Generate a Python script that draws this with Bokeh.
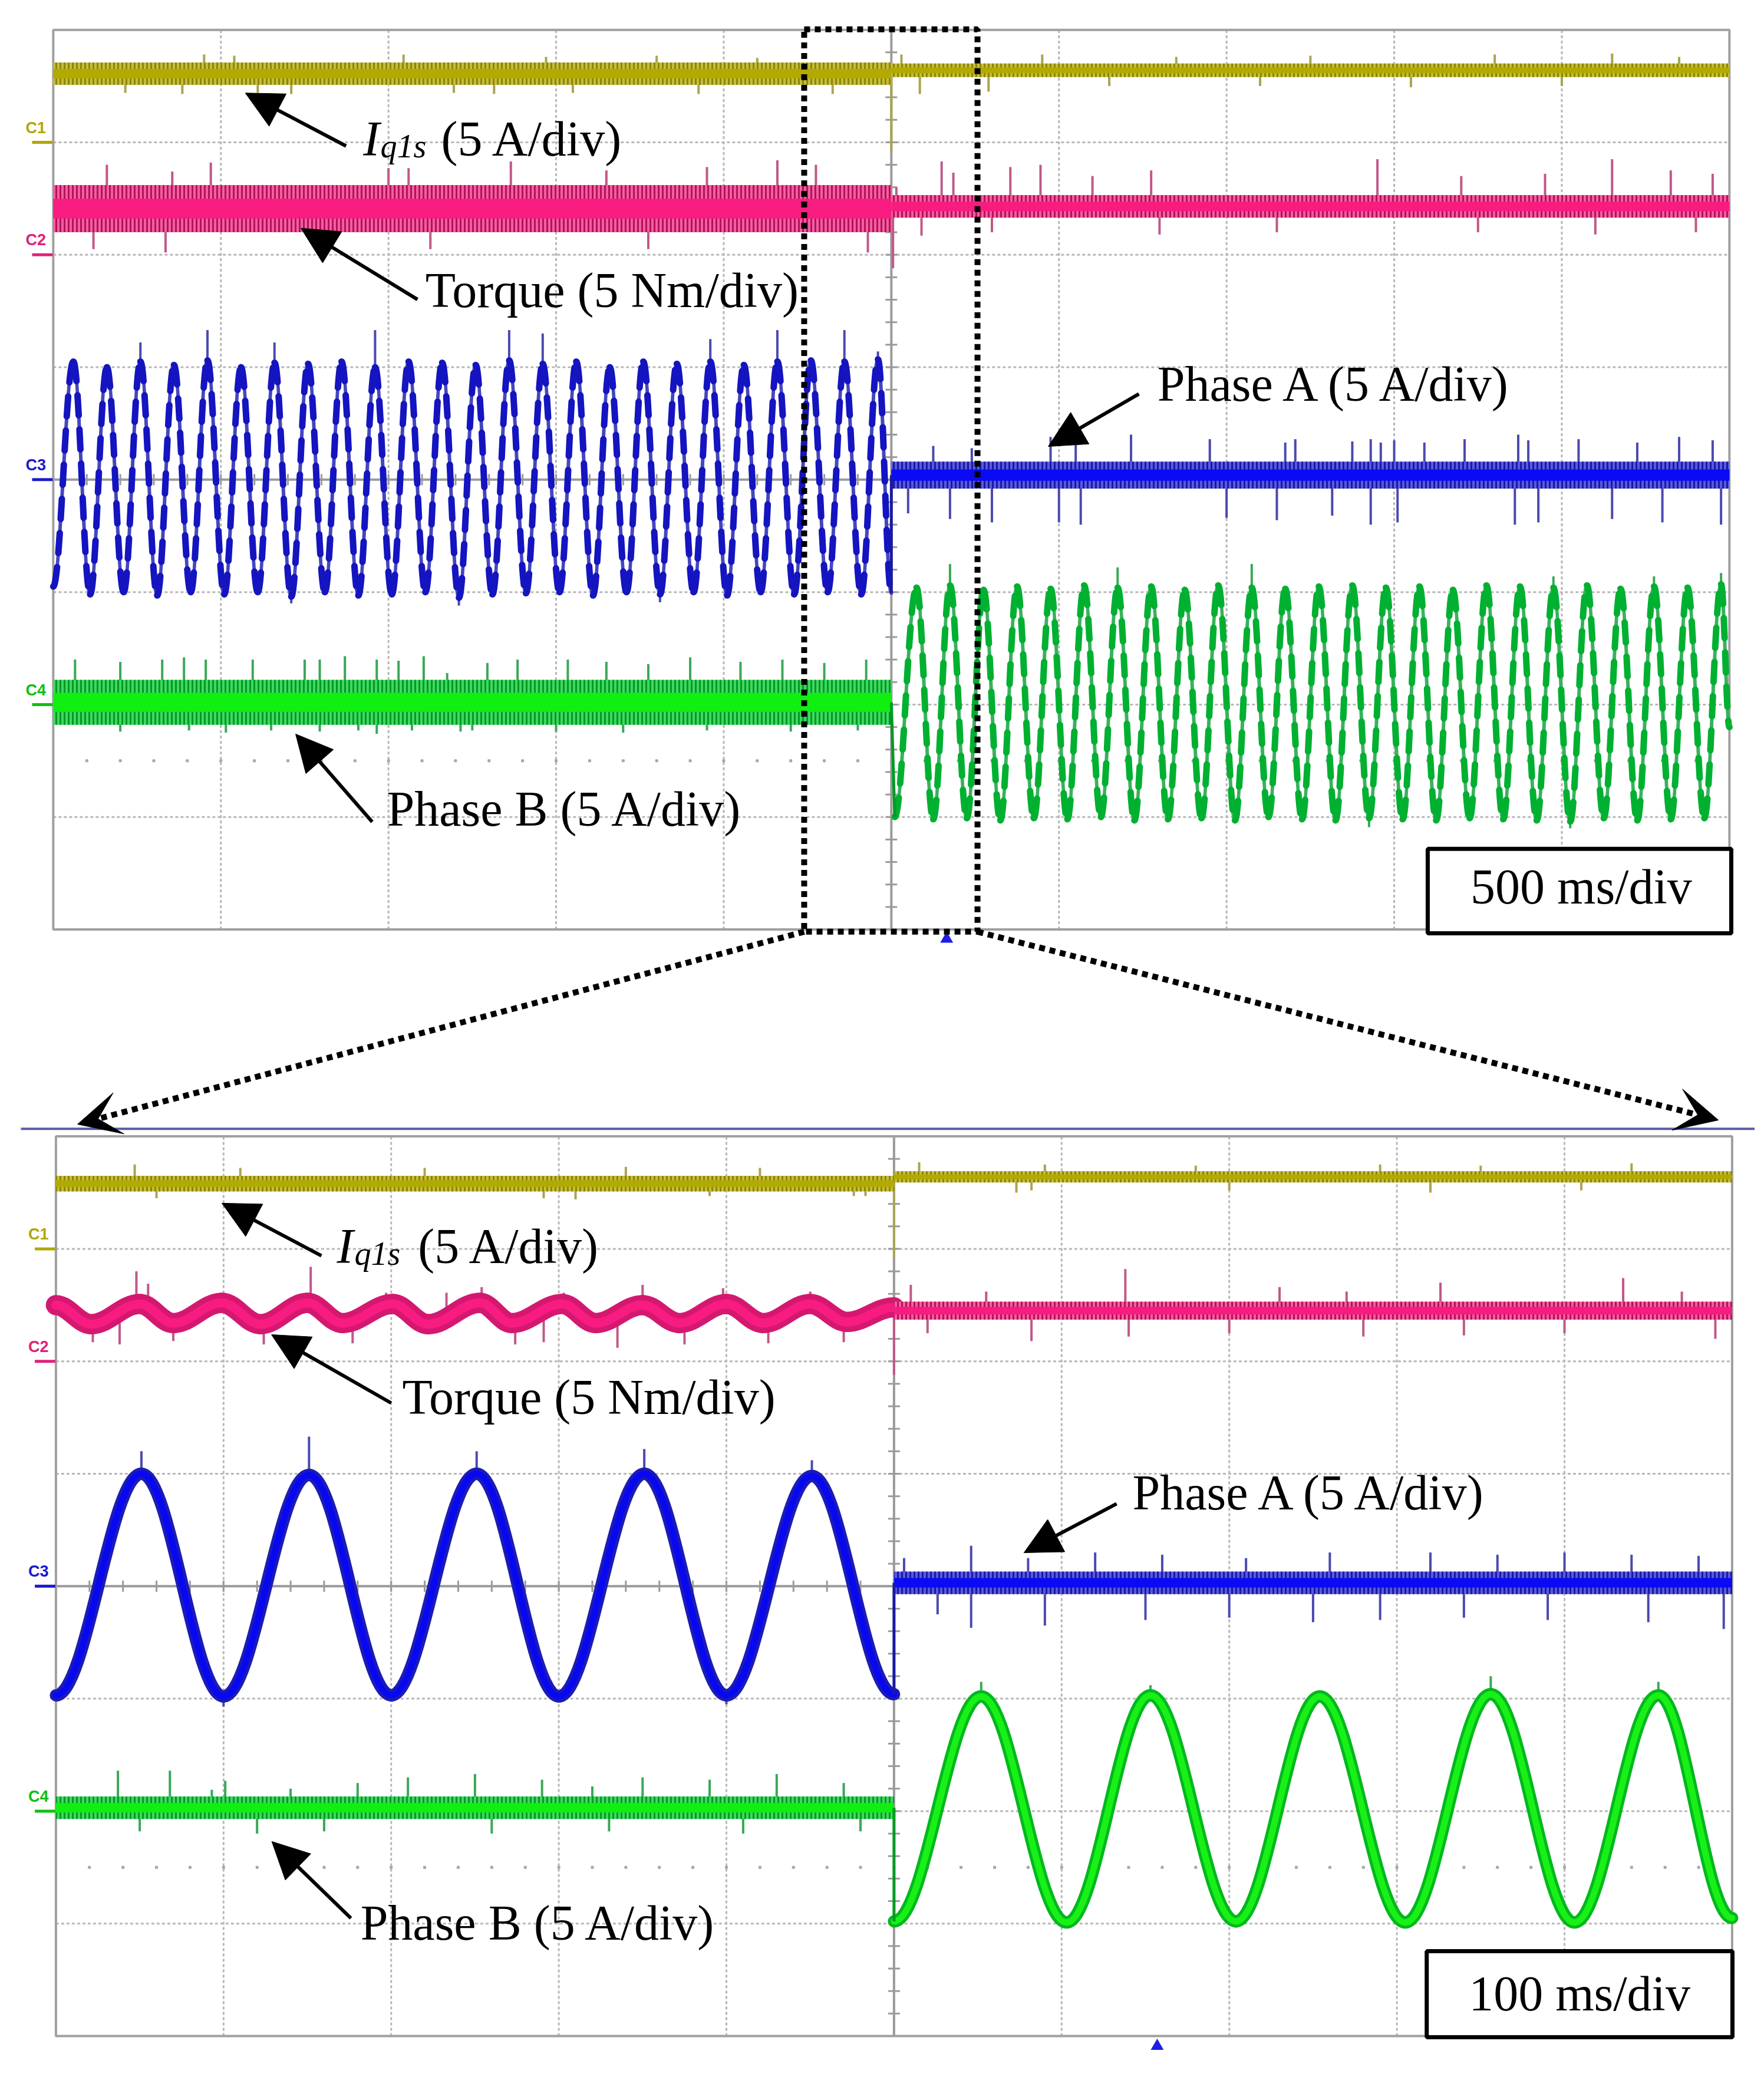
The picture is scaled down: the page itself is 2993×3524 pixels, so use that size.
import numpy as np
from bokeh.plotting import figure
from bokeh.models import Range1d, Arrow, NormalHead, VeeHead
from bokeh.core.properties import value
from bokeh.embed import file_html
from bokeh.resources import INLINE

# ======================= DATA (oscilloscope divisions) =======================
CHANNELS = ["C1", "C2", "C3", "C4"]
CH_REF = [7, 6, 4, 2]                      # channel reference levels (div)
SWITCH_T = 5.0                             # time of the fault (div)
TIME_SCALES = ["500 ms/div", "100 ms/div"]
TRIGGER_T = [5.33, 6.57]
LABEL_TEXT = ["Torque (5 Nm/div)", "Phase A (5 A/div)", "Phase B (5 A/div)"]
IQ_PARTS = ["I", "q1s", "(5 A/div)"]

# ---- top capture, 500 ms/div ----
TOP_IQ_LEVEL = [7.61, 7.64]          # before / after switch
TOP_IQ_NOISE = [0.10, 0.06]
TOP_IQ_SPK_T = [0.43, 0.77, 1.22, 1.42, 2.39, 2.63, 3.10, 3.85, 4.65, 0.90, 1.08, 2.09, 2.94, 3.60, 4.20,
                5.00, 5.06, 5.17, 5.58, 5.90, 6.30, 6.70, 7.20, 7.50, 8.10, 8.60, 9.00, 9.30, 9.70]
TOP_IQ_SPK_Y = [7.44, 7.43, 7.44, 7.43, 7.44, 7.43, 7.44, 7.43, 7.43, 7.78, 7.77, 7.78, 7.76, 7.77, 7.75,
                6.92, 7.78, 7.43, 7.45, 7.78, 7.50, 7.76, 7.50, 7.77, 7.49, 7.78, 7.50, 7.79, 7.76]

TOP_TQ_LEVEL = [6.41, 6.43]
TOP_TQ_NOISE = [0.21, 0.10]
TOP_TQ_SPK_T = [0.32, 0.71, 0.94, 2.00, 2.12, 2.73, 3.30, 3.90, 4.32, 4.55, 0.24, 0.67, 2.25, 3.55, 4.86,
                5.01, 5.03, 5.30, 5.37, 5.71, 5.89, 6.20, 6.55, 7.90, 8.40, 8.90, 9.30, 9.65, 9.90,
                5.18, 5.60, 6.60, 7.30, 8.50, 9.20, 9.80]
TOP_TQ_SPK_Y = [6.80, 6.74, 6.82, 6.77, 6.77, 6.83, 6.75, 6.78, 6.84, 6.80, 6.05, 6.02, 6.05, 6.05, 6.02,
                5.88, 6.60, 6.83, 6.73, 6.78, 6.80, 6.70, 6.75, 6.85, 6.70, 6.72, 6.85, 6.75, 6.72,
                6.17, 6.20, 6.18, 6.20, 6.20, 6.18, 6.20]

TOP_A_PEAK_T = [0.12, 0.32, 0.52, 0.72, 0.92, 1.12, 1.32, 1.52, 1.72, 1.92, 2.12, 2.32, 2.52,
                2.72, 2.92, 3.12, 3.32, 3.52, 3.72, 3.92, 4.12, 4.32, 4.52, 4.72, 4.92]
TOP_A_PEAK_Y = [5.05, 5.00, 5.05, 5.02, 5.06, 5.00, 5.04, 5.03, 5.05, 5.00, 5.05, 5.04, 5.02,
                5.06, 5.03, 5.05, 5.00, 5.05, 5.03, 5.05, 5.02, 5.05, 5.06, 5.05, 5.07]
TOP_A_TROUGH_T = [0.00, 0.22, 0.42, 0.62, 0.82, 1.02, 1.22, 1.42, 1.62, 1.82, 2.02, 2.22, 2.42,
                  2.62, 2.82, 3.02, 3.22, 3.42, 3.62, 3.82, 4.02, 4.22, 4.42, 4.62, 4.82, 5.00]
TOP_A_TROUGH_Y = [3.05, 2.98, 3.00, 2.97, 3.00, 2.98, 3.00, 2.96, 3.00, 2.97, 2.98, 3.00, 2.95,
                  2.98, 2.99, 3.00, 2.97, 3.00, 2.98, 3.00, 2.97, 3.00, 2.98, 3.00, 2.98, 2.99]
TOP_A_SPK_T = [0.52, 0.92, 1.32, 1.92, 2.72, 2.92, 3.92, 4.32, 4.72, 4.92, 1.42, 2.42, 3.62]
TOP_A_SPK_Y = [5.22, 5.33, 5.22, 5.33, 5.33, 5.30, 5.25, 5.33, 5.33, 5.14, 2.90, 2.88, 2.91]
TOP_A_LEVEL = 4.04                    # phase A after switch (open phase)
TOP_A_NOISE = 0.12
TOP_A_SPK2_T = [5.25, 5.48, 5.95, 6.10, 6.43, 6.90, 7.35, 7.41, 7.75, 7.86, 7.92, 8.00, 8.18, 8.42, 8.74, 8.80,
                9.10, 9.45, 9.70, 9.90,
                5.10, 5.35, 5.60, 6.00, 6.13, 7.00, 7.30, 7.63, 7.86, 8.02, 8.72, 8.86, 9.30, 9.60, 9.95]
TOP_A_SPK2_Y = [4.30, 4.28, 4.38, 4.33, 4.40, 4.36, 4.33, 4.36, 4.34, 4.36, 4.33, 4.35, 4.33, 4.36, 4.40, 4.35,
                4.36, 4.33, 4.38, 4.35,
                3.70, 3.65, 3.62, 3.62, 3.60, 3.66, 3.64, 3.68, 3.60, 3.62, 3.60, 3.62, 3.65, 3.62, 3.60]

TOP_B_LEVEL = 2.02                    # phase B before switch (open phase)
TOP_B_NOISE = 0.2
TOP_B_SPK_T = [0.13, 0.40, 0.65, 0.78, 0.91, 1.19, 1.50, 1.59, 1.74, 1.93, 2.06, 2.21, 2.35, 2.59, 2.77, 3.07,
               3.30, 3.55, 3.80, 4.10, 4.35, 4.60, 4.85,
               0.40, 0.81, 1.03, 1.30, 1.59, 1.82, 1.93, 2.14, 2.43, 2.50, 3.00, 3.40, 3.90, 4.40, 4.80]
TOP_B_SPK_Y = [2.40, 2.38, 2.40, 2.42, 2.40, 2.40, 2.40, 2.40, 2.43, 2.40, 2.39, 2.43, 2.28, 2.37, 2.40, 2.40,
               2.38, 2.36, 2.42, 2.38, 2.40, 2.37, 2.40,
               1.76, 1.77, 1.75, 1.77, 1.76, 1.77, 1.74, 1.77, 1.76, 1.77, 1.76, 1.75, 1.77, 1.76, 1.77]
TOP_B_PEAK_T = [5.15, 5.35, 5.55, 5.75, 5.95, 6.15, 6.35, 6.55, 6.75, 6.95, 7.15, 7.35, 7.55,
                7.75, 7.95, 8.15, 8.35, 8.55, 8.75, 8.95, 9.15, 9.35, 9.55, 9.75, 9.95]
TOP_B_PEAK_Y = [3.04, 3.06, 3.02, 3.05, 3.03, 3.06, 3.04, 3.05, 3.02, 3.06, 3.04, 3.03, 3.05,
                3.06, 3.04, 3.05, 3.02, 3.06, 3.05, 3.04, 3.06, 3.03, 3.05, 3.04, 3.07]
TOP_B_TROUGH_T = [5.02, 5.25, 5.45, 5.65, 5.85, 6.05, 6.25, 6.45, 6.65, 6.85, 7.05, 7.25, 7.45,
                  7.65, 7.85, 8.05, 8.25, 8.45, 8.65, 8.85, 9.05, 9.25, 9.45, 9.65, 9.85, 10.0]
TOP_B_TROUGH_Y = [1.00, 0.98, 0.99, 0.97, 0.99, 0.98, 1.00, 0.97, 0.98, 0.99, 0.97, 1.00, 0.98,
                  0.97, 0.99, 0.98, 0.97, 0.99, 0.98, 0.97, 0.96, 0.99, 0.97, 0.98, 0.99, 1.80]
TOP_B_SPK2_T = [5.35, 6.35, 7.15, 8.95, 9.55, 9.95, 9.05, 7.85]
TOP_B_SPK2_Y = [3.25, 3.22, 3.25, 3.14, 3.14, 3.17, 0.90, 0.91]

# ---- bottom capture, 100 ms/div ----
BOT_IQ_LEVEL = [7.58, 7.64]
BOT_IQ_NOISE = [0.07, 0.05]
BOT_IQ_SPK_T = [0.47, 1.10, 2.20, 3.40, 4.20, 5.15, 5.90, 6.80, 7.90, 8.50, 9.40,
                0.60, 2.91, 3.10, 3.90, 4.76, 4.83, 5.00, 5.73, 5.82, 7.00, 8.20, 9.10]
BOT_IQ_SPK_Y = [7.75, 7.72, 7.72, 7.73, 7.72, 7.77, 7.75, 7.74, 7.75, 7.74, 7.76,
                7.45, 7.45, 7.44, 7.47, 7.47, 7.47, 6.92, 7.50, 7.52, 7.52, 7.50, 7.52]

BOT_TQ_RIP_T = [0.0, 0.21, 0.50, 0.70, 0.99, 1.22, 1.50, 1.71, 2.01, 2.22, 2.53, 2.72,
                3.02, 3.22, 3.50, 3.72, 4.00, 4.22, 4.50, 4.72, 5.00]
BOT_TQ_RIP_Y = [6.50, 6.33, 6.51, 6.34, 6.52, 6.33, 6.52, 6.34, 6.51, 6.33, 6.52, 6.34,
                6.51, 6.34, 6.50, 6.34, 6.51, 6.34, 6.51, 6.35, 6.48]
BOT_TQ_NOISE = [0.09, 0.08]
BOT_TQ_LEVEL_AFTER = 6.45
BOT_TQ_SPK_T = [0.48, 0.55, 1.52, 1.97, 2.33, 2.54, 3.03, 3.50, 3.98, 4.50,
                0.22, 0.38, 0.70, 1.24, 1.77, 2.74, 2.91, 3.35, 3.75, 4.25, 4.70, 5.00,
                5.10, 5.55, 6.38, 7.30, 7.70, 8.26, 9.35, 9.70,
                5.20, 5.82, 6.40, 7.00, 7.80, 8.40, 9.00, 9.90]
BOT_TQ_SPK_Y = [6.80, 6.69, 6.84, 6.61, 6.61, 6.66, 6.61, 6.68, 6.65, 6.62,
                6.17, 6.15, 6.18, 6.15, 6.16, 6.15, 6.17, 6.12, 6.15, 6.16, 6.17, 5.88,
                6.68, 6.62, 6.82, 6.66, 6.62, 6.70, 6.74, 6.62,
                6.25, 6.18, 6.22, 6.25, 6.22, 6.23, 6.25, 6.20]

BOT_A_PEAK_T = [0.51, 1.51, 2.51, 3.51, 4.51]
BOT_A_PEAK_Y = [5.00, 4.99, 5.00, 5.00, 4.98]
BOT_A_TROUGH_T = [0.0, 1.0, 2.0, 3.0, 4.0, 5.0]
BOT_A_TROUGH_Y = [3.03, 3.02, 3.03, 3.02, 3.03, 3.04]
BOT_A_SPK_T = [0.51, 1.51, 2.51, 3.51, 4.51, 1.0, 4.0]
BOT_A_SPK_Y = [5.20, 5.33, 5.20, 5.22, 5.12, 2.93, 2.95]
BOT_A_LEVEL = 4.03
BOT_A_NOISE = 0.10
BOT_A_SPK2_T = [5.06, 5.46, 5.80, 6.20, 6.60, 7.10, 7.60, 8.20, 8.60, 9.00, 9.40, 9.80,
                5.26, 5.46, 5.90, 6.50, 7.00, 7.50, 7.90, 8.40, 8.90, 9.50, 9.95]
BOT_A_SPK2_Y = [4.25, 4.36, 4.25, 4.30, 4.28, 4.25, 4.30, 4.30, 4.28, 4.30, 4.28, 4.27,
                3.75, 3.63, 3.65, 3.70, 3.72, 3.68, 3.70, 3.72, 3.70, 3.68, 3.62]

BOT_B_LEVEL = 2.03
BOT_B_NOISE = 0.10
BOT_B_SPK_T = [0.37, 0.68, 0.93, 1.01, 1.40, 1.80, 2.10, 2.50, 2.90, 3.20, 3.50, 3.90, 4.30, 4.70,
               0.50, 1.20, 1.60, 2.60, 3.30, 4.10, 4.80]
BOT_B_SPK_Y = [2.36, 2.36, 2.19, 2.27, 2.20, 2.25, 2.30, 2.33, 2.28, 2.22, 2.30, 2.28, 2.33, 2.25,
               1.82, 1.80, 1.82, 1.80, 1.82, 1.80, 1.82]
BOT_B_PEAK_T = [5.52, 6.53, 7.54, 8.56, 9.56]
BOT_B_PEAK_Y = [3.02, 3.03, 3.02, 3.04, 3.03]
BOT_B_TROUGH_T = [5.0, 6.03, 7.04, 8.05, 9.06, 10.0]
BOT_B_TROUGH_Y = [1.02, 1.01, 1.02, 1.01, 1.01, 1.05]
BOT_B_SPK2_T = [5.52, 6.53, 8.56, 9.56]
BOT_B_SPK2_Y = [3.15, 3.12, 3.20, 3.15]

# ======================= STYLE =======================
# (hatch colour, core colour, spike colour, outer fill)
C_IQ = ("#8e8600", "#b2aa00", "#aaa450", "#c4bd40")
C_TQ = ("#b8105a", "#f81c80", "#c05888", "#f060a0")
C_A = ("#1a1aa0", "#0a0af5", "#4a4ab0", "#5a5ae0")
C_B = ("#009a24", "#10f010", "#3aa858", "#40d860")
CH_COL = ["#b0a800", "#e0207a", "#1a1ad0", "#10c010"]
GRID_C = "#b8b8b8"
AXIS_C = "#9a9a9a"
FONT = value("Liberation Serif")
TXT_UP = 0.135

W, H = 2977, 3508
PX_X, PX_Y = 284.4, 190.8
X0 = -94.4 / PX_X
Y1 = 3454.0 / PX_Y
TOP = (-0.016, 9.84)     # panel offsets (dx, dy)
BOT = (0.0, 0.0)

p = figure(width=W, height=H, x_range=Range1d(X0, X0 + W / PX_X),
           y_range=Range1d(Y1 - H / PX_Y, Y1), output_backend="svg",
           toolbar_location=None, min_border=0, x_axis_location=None, y_axis_location=None)
p.grid.visible = False
p.outline_line_color = None
p.background_fill_color = "white"
p.border_fill_color = "white"


def panel_frame(off):
    dx, dy = off
    xs = [i for i in range(1, 10) if i != 5]
    p.segment(x0=[x + dx for x in xs], y0=[dy] * len(xs), x1=[x + dx for x in xs], y1=[dy + 8] * len(xs),
              line_color=GRID_C, line_width=3, line_dash="5 4")
    ys = [j for j in range(1, 8) if j != 4]
    p.segment(x0=[dx] * len(ys), y0=[y + dy for y in ys], x1=[dx + 10] * len(ys), y1=[y + dy for y in ys],
              line_color=GRID_C, line_width=3, line_dash="5 4")
    p.segment(x0=[dx + 5, dx], y0=[dy, dy + 4], x1=[dx + 5, dx + 10], y1=[dy + 8, dy + 4],
              line_color=AXIS_C, line_width=4)
    tv = np.arange(0.2, 7.9, 0.2)
    p.segment(x0=dx + 5 - 0.035, y0=dy + tv, x1=dx + 5 + 0.035, y1=dy + tv, line_color=AXIS_C, line_width=3)
    th = np.arange(0.2, 9.9, 0.2)
    p.segment(x0=dx + th, y0=dy + 4 - 0.05, x1=dx + th, y1=dy + 4 + 0.05, line_color=AXIS_C, line_width=3)
    p.scatter(x=dx + th, y=dy + 1.5, marker="square", size=4, color="#a8a8a8")
    p.quad(left=dx, right=dx + 10, bottom=dy, top=dy + 8, fill_color=None, line_color="#a0a0a0", line_width=4)
    for name, lev, col in zip(CHANNELS, CH_REF, CH_COL):
        p.segment(x0=dx - 0.126, y0=dy + lev, x1=dx - 0.003, y1=dy + lev, line_color=col, line_width=5)
        p.text(x=[dx - 0.165], y=[dy + lev + 0.13], text=[name], text_color=col,
               text_font=value("Liberation Sans"), text_font_style="bold", text_font_size="27px",
               text_baseline="alphabetic", text_align="left")


def spikes(off, base, ts, ys, col):
    dx, dy = off
    base = np.broadcast_to(np.asarray(base, dtype=float), (len(ts),))
    p.segment(x0=np.asarray(ts) + dx, y0=base + dy, x1=np.asarray(ts) + dx, y1=np.asarray(ys) + dy,
              line_color=col, line_width=4)


def band(off, t0, t1, level, hw, cols):
    dx, dy = off
    p.quad(left=t0 + dx, right=t1 + dx, bottom=level - hw + dy, top=level + hw + dy,
           fill_color=cols[3], line_color=None,
           hatch_pattern="|", hatch_color=cols[0], hatch_scale=7, hatch_weight=3)
    p.quad(left=t0 + dx, right=t1 + dx, bottom=level - hw * 0.42 + dy, top=level + hw * 0.42 + dy,
           fill_color=cols[1], line_color=None)


def extrema(pt, py, tt, ty):
    t = np.array(list(pt) + list(tt))
    y = np.array(list(py) + list(ty))
    o = np.argsort(t, kind="stable")
    return t[o], y[o]


def nearest(ts, ys, spk_t):
    ts = np.asarray(ts)
    return [float(ys[int(np.argmin(np.abs(ts - t)))]) for t in spk_t]


def sine(off, ts, ys, color, width, dash="solid", c=0.364):
    dx, dy = off
    ts = np.asarray(ts) + dx
    ys = np.asarray(ys) + dy
    dt = ts[1:] - ts[:-1]
    p.bezier(x0=ts[:-1], y0=ys[:-1], x1=ts[1:], y1=ys[1:],
             cx0=ts[:-1] + c * dt, cy0=ys[:-1], cx1=ts[1:] - c * dt, cy1=ys[1:],
             line_color=color, line_width=width, line_dash=dash, line_cap="round")


panel_frame(TOP)
panel_frame(BOT)

# ---------------- top capture traces ----------------
spikes(TOP, [TOP_IQ_LEVEL[0] if t < SWITCH_T else TOP_IQ_LEVEL[1] for t in TOP_IQ_SPK_T], TOP_IQ_SPK_T, TOP_IQ_SPK_Y, C_IQ[2])
band(TOP, 0, SWITCH_T, TOP_IQ_LEVEL[0], TOP_IQ_NOISE[0], C_IQ)
band(TOP, SWITCH_T, 10, TOP_IQ_LEVEL[1], TOP_IQ_NOISE[1], C_IQ)

spikes(TOP, [TOP_TQ_LEVEL[0] if t < SWITCH_T else TOP_TQ_LEVEL[1] for t in TOP_TQ_SPK_T], TOP_TQ_SPK_T, TOP_TQ_SPK_Y, C_TQ[2])
band(TOP, 0, SWITCH_T, TOP_TQ_LEVEL[0], TOP_TQ_NOISE[0], C_TQ)
band(TOP, SWITCH_T, 10, TOP_TQ_LEVEL[1], TOP_TQ_NOISE[1], C_TQ)

ta, ya = extrema(TOP_A_PEAK_T, TOP_A_PEAK_Y, TOP_A_TROUGH_T, TOP_A_TROUGH_Y)
spikes(TOP, nearest(ta, ya, TOP_A_SPK_T), TOP_A_SPK_T, TOP_A_SPK_Y, C_A[2])
sine(TOP, ta, ya, "#4646bc", 6)
sine(TOP, ta, ya, "#1414c0", 11, dash="34 24")
spikes(TOP, TOP_A_LEVEL, TOP_A_SPK2_T, TOP_A_SPK2_Y, C_A[2])
band(TOP, SWITCH_T, 10, TOP_A_LEVEL, TOP_A_NOISE, C_A)
p.segment(x0=[ta[-1] + TOP[0]], y0=[ya[-1] + TOP[1]], x1=[SWITCH_T + TOP[0]], y1=[TOP_A_LEVEL + TOP[1]],
          line_color=C_A[0], line_width=5)

spikes(TOP, TOP_B_LEVEL, TOP_B_SPK_T, TOP_B_SPK_Y, C_B[2])
band(TOP, 0, SWITCH_T, TOP_B_LEVEL, TOP_B_NOISE, C_B)
tb, yb = extrema(TOP_B_PEAK_T, TOP_B_PEAK_Y, TOP_B_TROUGH_T, TOP_B_TROUGH_Y)
spikes(TOP, nearest(tb, yb, TOP_B_SPK2_T), TOP_B_SPK2_T, TOP_B_SPK2_Y, C_B[2])
sine(TOP, tb, yb, "#3cb060", 6)
sine(TOP, tb, yb, "#00b030", 11, dash="34 24")
p.segment(x0=[SWITCH_T + TOP[0]], y0=[TOP_B_LEVEL + TOP[1]], x1=[tb[0] + TOP[0]], y1=[yb[0] + TOP[1]],
          line_color=C_B[0], line_width=5)

# ---------------- bottom capture traces ----------------
spikes(BOT, [BOT_IQ_LEVEL[0] if t < SWITCH_T else BOT_IQ_LEVEL[1] for t in BOT_IQ_SPK_T], BOT_IQ_SPK_T, BOT_IQ_SPK_Y, C_IQ[2])
band(BOT, 0, SWITCH_T, BOT_IQ_LEVEL[0], BOT_IQ_NOISE[0], C_IQ)
band(BOT, SWITCH_T, 10, BOT_IQ_LEVEL[1], BOT_IQ_NOISE[1], C_IQ)

rip_t = np.asarray(BOT_TQ_RIP_T)
rip_y = np.asarray(BOT_TQ_RIP_Y)
spikes(BOT, [float(np.interp(t, rip_t, rip_y)) if t < SWITCH_T else BOT_TQ_LEVEL_AFTER for t in BOT_TQ_SPK_T],
       BOT_TQ_SPK_T, BOT_TQ_SPK_Y, C_TQ[2])
sine(BOT, rip_t, rip_y, "#d41870", 2 * BOT_TQ_NOISE[0] * PX_Y)
sine(BOT, rip_t, rip_y, C_TQ[1], 0.9 * BOT_TQ_NOISE[0] * PX_Y)
band(BOT, SWITCH_T, 10, BOT_TQ_LEVEL_AFTER, BOT_TQ_NOISE[1], C_TQ)

ta2, ya2 = extrema(BOT_A_PEAK_T, BOT_A_PEAK_Y, BOT_A_TROUGH_T, BOT_A_TROUGH_Y)
spikes(BOT, nearest(ta2, ya2, BOT_A_SPK_T), BOT_A_SPK_T, BOT_A_SPK_Y, C_A[2])
sine(BOT, ta2, ya2, "#1c1cb4", 21)
sine(BOT, ta2, ya2, "#0808f0", 11)
spikes(BOT, BOT_A_LEVEL, BOT_A_SPK2_T, BOT_A_SPK2_Y, C_A[2])
band(BOT, SWITCH_T, 10, BOT_A_LEVEL, BOT_A_NOISE, C_A)
p.segment(x0=[ta2[-1]], y0=[ya2[-1]], x1=[SWITCH_T], y1=[BOT_A_LEVEL], line_color=C_A[0], line_width=5)

spikes(BOT, BOT_B_LEVEL, BOT_B_SPK_T, BOT_B_SPK_Y, C_B[2])
band(BOT, 0, SWITCH_T, BOT_B_LEVEL, BOT_B_NOISE, C_B)
tb2, yb2 = extrema(BOT_B_PEAK_T, BOT_B_PEAK_Y, BOT_B_TROUGH_T, BOT_B_TROUGH_Y)
spikes(BOT, nearest(tb2, yb2, BOT_B_SPK2_T), BOT_B_SPK2_T, BOT_B_SPK2_Y, C_B[2])
sine(BOT, tb2, yb2, "#00b81c", 21)
sine(BOT, tb2, yb2, "#18f018", 11)
p.segment(x0=[SWITCH_T], y0=[BOT_B_LEVEL], x1=[tb2[0]], y1=[yb2[0]], line_color=C_B[0], line_width=5)

# trigger markers
p.scatter(x=[TRIGGER_T[0] + TOP[0], TRIGGER_T[1]], y=[TOP[1] - 0.085, BOT[1] - 0.09], marker="triangle",
          size=22, fill_color="#1e1ee6", line_color=None)

# ---------------- annotations ----------------
p.segment(x0=[-0.209], y0=[8.067], x1=[10.17], y1=[8.067], line_color="#5a5aa8", line_width=4)

p.quad(left=4.464, right=5.498, bottom=9.82, top=17.844, fill_color=None, line_color="black",
       line_width=10, line_dash="10 8")
for xs, ys, xe, ye in [(4.464, 9.82, 0.129, 8.108), (5.498, 9.82, 9.918, 8.145)]:
    p.add_layout(Arrow(end=VeeHead(size=72, fill_color="black", line_color="black", line_width=1),
                       x_start=xs, y_start=ys, x_end=xe, y_end=ye,
                       line_color="black", line_width=10, line_dash="10 8"))

ARROWS = [(1.731, 16.807, 1.130, 17.278), (2.157, 15.442, 1.462, 16.076),
          (6.461, 14.602, 5.920, 14.135), (1.887, 10.797, 1.430, 11.578),
          (1.584, 6.939, 0.990, 7.406), (2.000, 5.629, 1.286, 6.237),
          (6.328, 4.733, 5.775, 4.298), (1.760, 1.048, 1.288, 1.730)]
for xs, ys, xe, ye in ARROWS:
    p.add_layout(Arrow(end=NormalHead(size=62, fill_color="black", line_color="black", line_width=1),
                       x_start=xs, y_start=ys, x_end=xe, y_end=ye, line_color="black", line_width=6))

TXT_POS = [[(2.204, 15.388), (6.571, 14.555), (1.975, 10.776)],
           [(2.066, 5.545), (6.423, 4.699), (1.817, 0.870)]]
IQ_POS = [[(1.833, 16.737), (1.936, 16.672), (2.298, 16.737)],
          [(1.676, 6.890), (1.781, 6.825), (2.160, 6.890)]]
for k in range(2):
    p.text(x=[q[0] for q in TXT_POS[k]], y=[q[1] + TXT_UP for q in TXT_POS[k]], text=LABEL_TEXT,
           text_font=FONT, text_font_size="84px", text_color="black",
           text_baseline="alphabetic", text_align="left")
    (xi, yi), (xq, yq), (xp, yp) = IQ_POS[k]
    p.text(x=[xi], y=[yi + TXT_UP], text=[IQ_PARTS[0]], text_font=FONT, text_font_style="italic",
           text_font_size="84px", text_baseline="alphabetic", text_align="left", text_color="black")
    p.text(x=[xq], y=[yq + TXT_UP], text=[IQ_PARTS[1]], text_font=FONT, text_font_style="italic",
           text_font_size="56px", text_baseline="alphabetic", text_align="left", text_color="black")
    p.text(x=[xp], y=[yp + TXT_UP], text=[IQ_PARTS[2]], text_font=FONT,
           text_font_size="84px", text_baseline="alphabetic", text_align="left", text_color="black")

BOXES = [(8.184, 9.995, 9.806, 10.557, 9.10, 10.084), (8.178, 10.002, -0.010, 0.755, 9.09, 0.241)]
for (l, r, b, t, tx, ty), s in zip(BOXES, TIME_SCALES):
    p.quad(left=l, right=r, bottom=b, top=t, fill_color="white", line_color="black", line_width=7)
    p.text(x=[tx], y=[ty + TXT_UP], text=[s], text_font=FONT, text_font_size="84px", text_color="black",
           text_baseline="alphabetic", text_align="center")

open("out.html", "w").write(file_html(p, INLINE))
